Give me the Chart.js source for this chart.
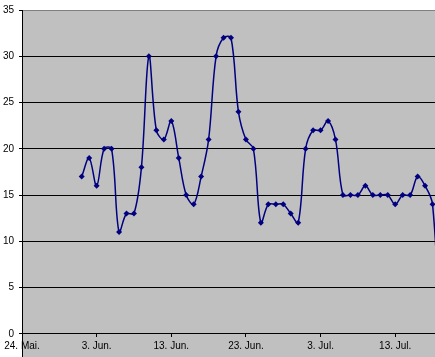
<!DOCTYPE html>
<html>
<head>
<meta charset="utf-8">
<script src="https://cdn.jsdelivr.net/npm/chart.js@4.4.1/dist/chart.umd.min.js"></script>
<style>
    html, body { margin: 0; padding: 0; background: #fff; overflow: hidden; }
    canvas { display: block; }
</style>
</head>
<body>
<canvas id="tempChart" width="435" height="357"></canvas>
<script>
// Tage ab dem 24. Mai, Werte ab dem 1. Juni (Tag 8)
const firstDay = 8;
const temps = [17, 19, 16, 20, 20, 11, 13, 13, 18, 30, 22, 21, 23, 19, 15, 14, 17, 21, 30, 32,
    32, 24, 21, 20, 12, 14, 14, 14, 13, 12, 20, 22, 22, 23, 21, 15, 15, 15, 16, 15,
    15, 15, 14, 15, 15, 17, 16, 14, 0];
const tickDays = [0, 10, 20, 30, 40, 50];
const tickLabels = ['24. Mai.', '3. Jun.', '13. Jun.', '23. Jun.', '3. Jul.', '13. Jul.'];
const yTicks = [0, 5, 10, 15, 20, 25, 30, 35];

const points = temps.map((v, i) => ({ x: firstDay + i, y: v }));

const plotBackground = {
    id: 'plotBackground',
    beforeDraw(chart) {
        const { ctx, chartArea } = chart;
        ctx.save();
        ctx.fillStyle = '#c0c0c0';
        ctx.fillRect(chartArea.left, chartArea.top, chartArea.right - chartArea.left, chartArea.bottom - chartArea.top);
        ctx.restore();
    }
};

const font = { family: 'Liberation Sans', size: 10 };

new Chart(document.getElementById('tempChart').getContext('2d'), {
    type: 'line',
    data: {
        datasets: [{
            data: points,
            borderColor: '#000080',
            borderWidth: 1.5,
            backgroundColor: '#000080',
            pointStyle: 'rectRot',
            pointRadius: 3,
            pointBorderWidth: 0,
            pointBackgroundColor: '#000080',
            tension: 0.35,
            fill: false
        }]
    },
    options: {
        responsive: false,
        animation: false,
        events: [],
        layout: { autoPadding: false, padding: { top: 10, right: 0, bottom: 0, left: 0 } },
        plugins: {
            legend: { display: false },
            tooltip: { enabled: false }
        },
        scales: {
            x: {
                type: 'linear',
                position: { y: 0 },
                min: 0,
                max: 55.33,
                afterFit: s => { s.height = 0; s.paddingLeft = 0; s.paddingRight = 0; },
                afterBuildTicks: s => { s.ticks = tickDays.map(v => ({ value: v })); },
                grid: { drawOnChartArea: false, drawTicks: true, tickLength: 3, color: '#000' },
                border: { color: '#000', width: 1 },
                ticks: {
                    autoSkip: false,
                    maxRotation: 0,
                    color: '#000',
                    font: font,
                    padding: 3,
                    callback: (v) => tickLabels[tickDays.indexOf(v)]
                }
            },
            y: {
                min: -2.5,
                max: 35,
                afterFit: s => { s.width = 22; s.paddingTop = 0; s.paddingBottom = 0; },
                afterBuildTicks: s => { s.ticks = yTicks.map(v => ({ value: v })); },
                grid: {
                    color: ctx => (ctx.tick && ctx.tick.value === 35) ? '#808080' : '#000',
                    tickColor: '#000',
                    tickLength: 3,
                    lineWidth: 1
                },
                border: { color: '#000', width: 1 },
                ticks: { color: '#000', font: font, padding: 5 }
            }
        }
    },
    plugins: [plotBackground]
});
</script>
</body>
</html>
